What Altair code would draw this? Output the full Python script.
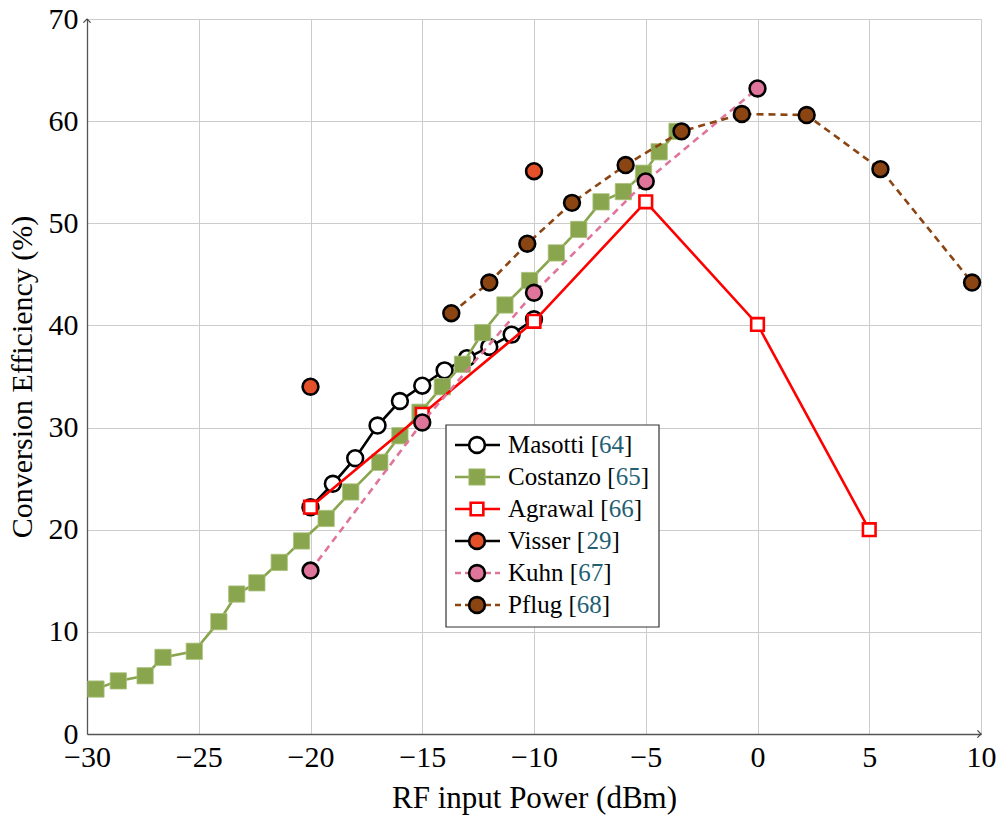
import altair as alt
import pandas as pd

# ---------------- data ----------------
masotti_x = [-20, -19, -18, -17, -16, -15, -14, -13, -12, -11, -10]
masotti_y = [22.2, 24.5, 27.0, 30.2, 32.6, 34.1, 35.6, 36.8, 37.9, 39.1, 40.6]

costanzo_x = [-29.6, -28.6, -27.4, -26.6, -25.2, -24.1, -23.3, -22.4, -21.4, -20.4,
              -19.3, -18.2, -16.9, -16.0, -15.1, -14.1, -13.2, -12.3, -11.3, -10.2,
              -9.0, -8.0, -7.0, -6.0, -5.1, -4.4, -3.6]
costanzo_y = [4.4, 5.2, 5.7, 7.5, 8.1, 11.0, 13.7, 14.8, 16.8, 18.9,
              21.1, 23.7, 26.6, 29.2, 31.5, 34.0, 36.2, 39.3, 42.0, 44.4,
              47.1, 49.4, 52.1, 53.1, 54.9, 57.0, 59.0]

agrawal_x = [-20, -15, -10, -5, 0, 5]
agrawal_y = [22.2, 31.3, 40.4, 52.1, 40.1, 20.0]

visser_x = [-20, -10]
visser_y = [34.0, 55.1]

kuhn_x = [-20, -15, -10, -5, 0]
kuhn_y = [16.0, 30.5, 43.2, 54.1, 63.2]

pflug_x = [-13.7, -12.0, -10.3, -8.3, -5.9, -3.4, -0.7, 2.2, 5.5, 9.6]
pflug_y = [41.2, 44.2, 48.0, 52.0, 55.7, 59.0, 60.7, 60.6, 55.3, 44.2]

series_names = ["Masotti", "Costanzo", "Agrawal", "Visser", "Kuhn", "Pflug"]
series_refs = ["64", "65", "66", "29", "67", "68"]

x_ticks = [-30, -25, -20, -15, -10, -5, 0, 5, 10]
y_ticks = [0, 10, 20, 30, 40, 50, 60, 70]
x_title = "RF input Power (dBm)"
y_title = "Conversion Efficiency (%)"

# ---------------- style ----------------
FONT = "Liberation Serif"
W, H = 894, 715
XMIN, XMAX = x_ticks[0], x_ticks[-1]
YMIN, YMAX = y_ticks[0], y_ticks[-1]

GREEN = "#89a54e"
RED = "#ff0000"
ORANGE = "#e4502a"
PINK = "#e0759b"
BROWN = "#8b4513"
TEAL = "#235f72"

xscale = alt.Scale(domain=[XMIN, XMAX], nice=False, zero=False)
yscale = alt.Scale(domain=[YMIN, YMAX], nice=False, zero=False)

common_axis = dict(grid=True, gridColor="#cccccc", gridWidth=1,
                   domainColor="#555555", domainWidth=1.3, tickSize=0,
                   labelFont=FONT, labelFontSize=30, labelColor="black",
                   titleFont=FONT, titleFontWeight="normal",
                   titleColor="black", labelOverlap=False, labelFlush=False,
                   format="d")


def X():
    return alt.X("x:Q", scale=xscale,
                 axis=alt.Axis(values=x_ticks, title=x_title, labelPadding=8,
                               titlePadding=11, titleFontSize=31, **common_axis))


def Y():
    return alt.Y("y:Q", scale=yscale,
                 axis=alt.Axis(values=y_ticks, title=y_title, labelPadding=9,
                               titlePadding=11, titleFontSize=30, **common_axis))


def df(xs, ys):
    return pd.DataFrame({"x": xs, "y": ys})


layers = []

# axis arrows
arrow_up = "M -0.8 0.8 L 0 0 L 0.8 0.8"
arrow_right = "M -0.8 -0.8 L 0 0 L -0.8 0.8"
layers.append(alt.Chart(df([XMIN], [YMAX])).mark_point(
    shape=arrow_up, size=80, filled=False, stroke="#444444", strokeWidth=1.2,
    opacity=1).encode(x=X(), y=Y()))
layers.append(alt.Chart(df([XMAX], [YMIN])).mark_point(
    shape=arrow_right, size=80, filled=False, stroke="#444444", strokeWidth=1.2,
    opacity=1).encode(x=X(), y=Y()))

specs = [
    # xs, ys, line color, dash, draw line, shape, fill, stroke, size, stroke width
    (masotti_x, masotti_y, "black", None, True, "circle", "white", "black", 250, 2.6),
    (costanzo_x, costanzo_y, GREEN, None, True, "square", GREEN, "#a9c27a", 265, 0.8),
    (agrawal_x, agrawal_y, RED, None, True, "square", "white", RED, 160, 2.6),
    (visser_x, visser_y, "black", None, False, "circle", ORANGE, "black", 250, 2.6),
    (kuhn_x, kuhn_y, PINK, [7, 5], True, "circle", PINK, "black", 250, 2.6),
    (pflug_x, pflug_y, BROWN, [7, 5], True, "circle", BROWN, "black", 250, 2.6),
]

for xs, ys, lc, dash, draw_line, shape, fill, stroke, size, sw in specs:
    d = df(xs, ys)
    if draw_line:
        lkw = dict(color=lc, strokeWidth=2.6)
        if dash:
            lkw["strokeDash"] = dash
        layers.append(alt.Chart(d).mark_line(**lkw).encode(x=X(), y=Y()))
    layers.append(alt.Chart(d).mark_point(
        shape=shape, size=size, filled=True, fill=fill, stroke=stroke,
        strokeWidth=sw, opacity=1).encode(x=X(), y=Y()))

# ---------------- legend ----------------
# Times / Liberation Serif advance widths (per 1000 em) to place coloured pieces
ADV = {" ": 250, "[": 333, "]": 333, "M": 889, "a": 444, "s": 389, "o": 500,
       "t": 278, "i": 278, "C": 667, "n": 500, "z": 444, "A": 722, "g": 500,
       "r": 333, "w": 722, "l": 278, "V": 722, "e": 444, "K": 722, "u": 500,
       "h": 500, "P": 556, "f": 333}
for c in "0123456789":
    ADV[c] = 500


def text_width(s, size):
    return sum(ADV.get(c, 500) for c in s) * size / 1000.0


one = pd.DataFrame({"a": [0]})
LX0, LX1, LY0, LY1 = 359, 572, 406, 608
row0, row_step = 426, 32
lx_a, lx_b, lx_m, lx_t = 368, 413, 390, 421
LFS = 25

layers.append(alt.Chart(one).mark_rect(fill="white", stroke="#333333",
                                       strokeWidth=1.2).encode(
    x=alt.value(LX0), x2=alt.value(LX1), y=alt.value(LY0), y2=alt.value(LY1)))

for i, (name, ref, spec) in enumerate(zip(series_names, series_refs, specs)):
    xs, ys, lc, dash, draw_line, shape, fill, stroke, size, sw = spec
    ry = row0 + i * row_step
    lkw = dict(color=lc, strokeWidth=2.6)
    if dash:
        lkw["strokeDash"] = [6, 4]
    layers.append(alt.Chart(one).mark_rule(**lkw).encode(
        x=alt.value(lx_a), x2=alt.value(lx_b), y=alt.value(ry)))
    layers.append(alt.Chart(one).mark_point(
        shape=shape, size=size, filled=True, fill=fill, stroke=stroke,
        strokeWidth=sw, opacity=1).encode(x=alt.value(lx_m), y=alt.value(ry)))
    tkw = dict(font=FONT, fontSize=LFS, align="left", baseline="middle")
    prefix = f"{name} ["
    w1 = text_width(prefix, LFS)
    w2 = text_width(ref, LFS)
    layers.append(alt.Chart(one).mark_text(color="black", **tkw).encode(
        x=alt.value(lx_t), y=alt.value(ry), text=alt.value(prefix)))
    layers.append(alt.Chart(one).mark_text(color=TEAL, **tkw).encode(
        x=alt.value(lx_t + w1), y=alt.value(ry), text=alt.value(ref)))
    layers.append(alt.Chart(one).mark_text(color="black", **tkw).encode(
        x=alt.value(lx_t + w1 + w2), y=alt.value(ry), text=alt.value("]")))

chart = alt.layer(*layers).properties(
    width=W, height=H,
    autosize=alt.AutoSizeParams(type="none"),
    padding={"left": 87, "top": 19, "right": 17, "bottom": 84},
    background="white",
).configure_view(strokeWidth=0)

chart.save("out.html", embed_options={"renderer": "svg", "actions": False})
